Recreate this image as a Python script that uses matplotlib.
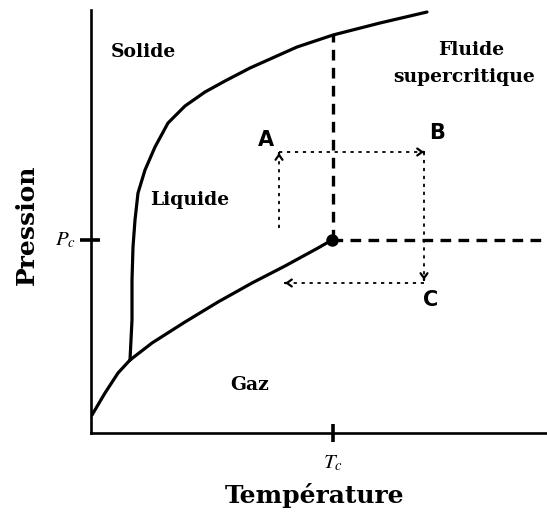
import matplotlib
matplotlib.use("Agg")
import matplotlib.pyplot as plt
import numpy as np

# Data (arbitrary temperature / pressure units)
sub_T = [1, 14, 27, 39]
sub_P = [18, 40, 60, 73]
vap_T = [39, 61, 94, 127, 161, 194, 227, 241]
vap_P = [73, 90, 111, 131, 150, 167, 185, 193]
melt_T = [39, 41, 41, 42, 44, 47, 54, 64, 77, 94, 114, 134, 159, 206, 242, 289, 336]
melt_P = [73, 113, 153, 186, 213, 240, 263, 286, 310, 327, 341, 352, 365, 386, 398, 410, 421]
Tc, Pc = 242, 193
crit_T, crit_P = 241, 193
# path A -> B -> C
pA_T = [188, 188]; pA_P = [205, 280]
pAB_T = [188, 333]; pAB_P = [281, 281]
pBC_T = [333, 333]; pBC_P = [281, 153]
pC_T = [333, 194]; pC_P = [150, 150]

fig = plt.figure(figsize=(5.47, 5.17), dpi=100)
ax = fig.add_axes([91/547, 84/517, 456/547, 423/517])
ax.set_xlim(0, 456)
ax.set_ylim(0, 423)
for s in ['top', 'right']:
    ax.spines[s].set_visible(False)
for s in ['left', 'bottom']:
    ax.spines[s].set_linewidth(1.9)
ax.set_xticks([]); ax.set_yticks([])

lw = 2.3
ax.plot(sub_T, sub_P, color='black', lw=lw, solid_capstyle='round', solid_joinstyle='round')
ax.plot(vap_T, vap_P, color='black', lw=lw, solid_capstyle='round', solid_joinstyle='round')
ax.plot(melt_T, melt_P, color='black', lw=lw, solid_capstyle='round', solid_joinstyle='round')
ax.plot([crit_T], [crit_P], 'o', color='black', ms=8)

# dashed critical lines
ax.plot([Tc, Tc], [crit_P, 398], color='black', lw=2.4, dashes=(3.2, 2.2))
ax.plot([crit_T, 456], [crit_P, crit_P], color='black', lw=2.4, dashes=(3.2, 2.2))

# dotted path
for xs, ys in [(pA_T, pA_P), (pAB_T, pAB_P), (pBC_T, pBC_P), (pC_T, pC_P)]:
    ax.plot(xs, ys, color='black', lw=1.3, dashes=(1.8, 2.6))
    dx = xs[1] - xs[0]; dy = ys[1] - ys[0]
    n = np.hypot(dx, dy)
    ax.annotate('', xy=(xs[1], ys[1]), xytext=(xs[1] - dx / n * 0.5, ys[1] - dy / n * 0.5),
                arrowprops=dict(arrowstyle='->,head_length=0.35,head_width=0.25', color='black', lw=1.6,
                                shrinkA=0, shrinkB=0))

# ticks Tc, Pc
ax.plot([Tc, Tc], [-9, 9], color='black', lw=2.6, clip_on=False, solid_capstyle='butt')
ax.plot([-11, 9], [Pc, Pc], color='black', lw=2.6, clip_on=False, solid_capstyle='butt')
plt.rcParams['mathtext.fontset'] = 'stix'
ax.text(Tc, -30, r'$T_c$', fontsize=15, ha='center', va='center')
ax.text(-26, Pc, r'$P_c$', fontsize=15, ha='center', va='center')

serif = dict(family='DejaVu Serif', fontweight='bold', color='black')
ax.text(52, 381, 'Solide', fontsize=13.5, ha='center', va='center', **serif)
ax.text(99, 233, 'Liquide', fontsize=13.5, ha='center', va='center', **serif)
ax.text(159, 48, 'Gaz', fontsize=13.5, ha='center', va='center', **serif)
ax.text(380, 383, 'Fluide', fontsize=13.5, ha='center', va='center', **serif)
ax.text(373, 356, 'supercritique', fontsize=13.5, ha='center', va='center', **serif)

sans = dict(family='DejaVu Sans', fontweight='heavy', color='black')
ax.text(175, 293, 'A', fontsize=15, ha='center', va='center', **sans)
ax.text(346, 300, 'B', fontsize=15, ha='center', va='center', **sans)
ax.text(340, 133, 'C', fontsize=15, ha='center', va='center', **sans)

fig.text(315/547, 1 - 495/517, 'Température', fontsize=18, ha='center', va='center', **serif)
fig.text(27/547, 1 - 225/517, 'Pression', fontsize=18, ha='center', va='center', rotation=90, **serif)

fig.savefig('out.png', dpi=100)
